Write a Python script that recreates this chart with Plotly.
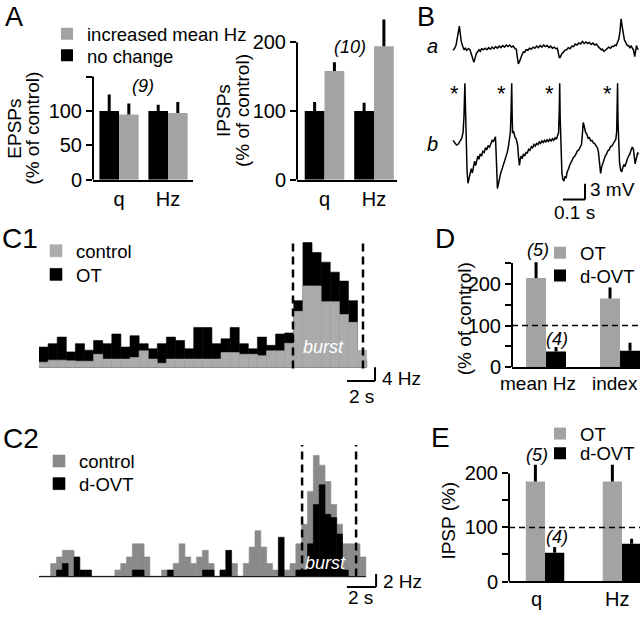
import plotly.graph_objects as go

W, H = 640, 620
FONT = "Liberation Sans, Arial, Helvetica, sans-serif"


def px(x):
    return x / W


def py(y):
    return 1 - y / H


def dom_x(a, b):
    return [a / W, b / W]


def dom_y(top, bottom):
    return [1 - bottom / H, 1 - top / H]


# ---------------- data ----------------
# Panel A (percent of control)
a_cats = ["q", "Hz"]
epsp_nochange = [100, 100]
epsp_nochange_err = [24, 9]
epsp_increased = [95, 97]
epsp_increased_err = [16, 16]
ipsp_nochange = [100, 100]
ipsp_nochange_err = [13, 12]
ipsp_increased = [158, 194]
ipsp_increased_err = [13, 39]

# Panel B traces (time in ms, membrane potential in mV relative to rest)
trace_a_ms = [0, 8, 14, 20, 26, 29, 33, 38, 44, 50, 56, 62, 70, 77, 84, 90, 95, 100, 106, 112, 118, 124, 130,
              138, 146, 154, 162, 170, 178, 186, 194, 202, 210, 218, 226, 234, 242, 250, 258, 266, 274, 282,
              288, 292, 297, 302, 308, 314, 320, 326, 332, 340, 348, 356, 364, 372, 380, 388, 396, 404, 412,
              420, 428, 436, 444, 452, 460, 468, 474, 479, 484, 489, 495, 501, 508, 516, 524, 532, 540, 548,
              556, 564, 572, 580, 588, 596, 604, 612, 620, 628, 636, 644, 652, 660, 668, 674, 680, 686, 692,
              700, 708, 716, 724, 730, 736, 742, 748, 754, 759, 764, 768, 773, 779, 786, 792, 798, 804, 810,
              816, 821, 826, 830, 834, 838, 842]
trace_a_mv = [-0.6, -0.2, 0.4, 1.8, 3.6, 4.0, 2.6, 1.0, 0.2, -0.5, -0.2, -0.6, -0.3, -0.5, -1.4, -2.5, -2.9,
              -2.2, -1.2, -0.9, -0.5, -0.8, -0.3, -0.5, -0.2, -0.5, -0.1, -0.4, 0.0, -0.3, 0.1, -0.2, 0.2,
              -0.1, 0.3, 0.0, 0.4, 0.1, 0.4, 0.0, 0.2, -0.3, -0.4, -1.8, -3.2, -2.8, -1.9, -1.4, -0.9, -1.0,
              -0.5, -0.6, -0.2, -0.4, 0.0, -0.2, 0.2, -0.1, 0.3, 0.0, 0.4, 0.1, 0.3, -0.1, 0.2, -0.2, 0.0,
              -0.3, -0.2, -1.0, -2.1, -1.8, -1.2, -1.0, -0.6, -0.5, -0.1, -0.3, 0.2, 0.1, 0.6, 0.4, 0.8, 0.6,
              1.1, 0.7, 1.0, 0.7, 0.9, 0.5, 0.8, 0.4, 0.6, 0.1, -0.2, -0.5, -0.4, -0.8, -0.6, -0.3, 0.0,
              -0.2, 0.2, 0.1, 0.4, 0.3, 0.8, 1.6, 3.0, 5.4, 4.2, 2.6, 1.4, 0.8, 0.3, 0.3, -0.1, 0.2, -0.3,
              -0.6, -1.8, -0.8, 0.3, -0.2, -0.5]
trace_b_ms = [0, 8, 16, 24, 32, 40, 46, 50, 54, 57, 60, 64, 68, 73, 78, 83, 88, 93, 98, 103, 108, 113, 118,
              124, 130, 136, 142, 148, 154, 160, 166, 172, 178, 184, 189, 193, 196, 199, 202, 206, 211, 216,
              222, 228, 234, 240, 246, 252, 257, 261, 264, 267, 269, 271, 276, 282, 288, 294, 298, 302, 306,
              310, 315, 320, 326, 332, 338, 344, 350, 356, 362, 368, 374, 380, 386, 392, 398, 404, 410, 416,
              422, 428, 434, 440, 446, 452, 458, 464, 470, 476, 480, 483, 485, 487, 489, 492, 495, 499, 504,
              509, 514, 519, 524, 530, 536, 542, 548, 554, 560, 566, 572, 578, 584, 588, 592, 595, 598, 602,
              608, 614, 620, 626, 632, 638, 644, 650, 656, 661, 666, 671, 675, 680, 686, 692, 698, 704, 710,
              716, 722, 728, 734, 740, 744, 746, 748, 750, 753, 757, 762, 767, 772, 777, 782, 787, 792, 798,
              804, 810, 815, 820, 824, 828, 832, 836, 840, 842]
trace_b_mv = [0.4, -0.1, -0.5, -0.3, 0.2, 0.8, 2.0, 5.0, 11.3, 6.0, -1.0, -5.5, -7.8, -7.0, -6.2, -5.0, -5.8,
              -4.2, -3.6, -4.4, -3.1, -2.6, -3.2, -2.2, -2.6, -1.7, -1.9, -1.0, -1.4, -0.6, -0.9, -0.1, 0.4,
              0.2, 1.0, 1.1, -2.0, -6.5, -8.8, -8.0, -6.8, -6.0, -5.2, -4.5, -3.6, -2.9, -2.0, -0.8, 0.5,
              2.0, 6.0, 11.3, 5.0, 1.8, 2.0, 1.0, 0.6, -0.6, -2.8, -4.4, -3.2, -2.6, -3.1, -2.2, -2.6, -1.9,
              -2.0, -1.3, -1.5, -0.8, -1.0, -0.4, -0.7, -0.2, -0.4, 0.1, -0.2, 0.3, 0.0, 0.4, 0.1, 0.5, 0.2,
              0.6, 0.3, 0.7, 0.4, 0.9, 0.6, 1.2, 1.9, 6.0, 11.3, 5.0, 0.5, -3.0, -5.8, -7.0, -7.4, -6.5,
              -6.8, -5.6, -5.2, -4.4, -3.8, -3.3, -2.8, -2.6, -2.0, -1.6, -1.4, -1.0, -0.4, 1.5, 3.8, 3.4,
              2.8, 2.0, 1.6, 0.8, 0.9, 0.3, 0.4, -0.1, -0.2, -0.7, -1.0, -1.8, -3.6, -5.9, -4.8, -4.0, -3.4,
              -2.6, -2.2, -1.6, -1.4, -0.8, -0.7, -0.2, 0.1, 0.6, 2.0, 6.0, 11.3, 4.0, -1.0, -3.8, -5.3,
              -5.6, -4.8, -4.2, -4.6, -3.6, -3.2, -2.6, -2.2, -1.4, -0.9, -1.3, -2.6, -4.1, -3.3, -2.2, -1.9,
              -2.3]
spike_ms = [54, 267, 485, 748]
b_scale_ms = 100
b_scale_mv = 3

# Panel C1 (firing-rate histogram, Hz per bin)
c1_bin_s = 0.65
c1_ot_hz = [5.9, 6.9, 8.8, 4.5, 6.9, 5.0, 7.8, 6.9, 9.7, 5.9, 9.2, 6.9, 5.4, 6.9, 8.8, 7.8, 5.4, 11.6,
            11.6, 6.9, 8.3, 11.6, 6.9, 5.4, 8.8, 6.4, 9.7, 10.0, 19.4, 36.3, 33.4, 30.6, 27.7, 25.1, 19.4, 2.0]
c1_control_hz = [1.5, 2.1, 2.1, 1.9, 1.8, 1.8, 3.8, 2.4, 2.4, 2.4, 2.9, 4.8, 2.4, 1.2, 2.4, 2.4, 2.4, 2.4,
                 2.4, 2.4, 4.3, 4.3, 3.8, 3.8, 3.4, 4.8, 4.8, 7.0, 16.3, 23.7, 23.7, 19.1, 19.1, 15.4, 13.1, 5.0]
c1_burst_s = [18.14, 23.14]
c1_scale_s = 2
c1_scale_hz = 4

# Panel C2
c2_bin_s = 0.4
c2_control_hz = [0, 0, 2, 3, 4, 4, 0, 0, 0, 0,
                 0, 0, 0, 1, 2, 3, 5, 5, 3, 0,
                 0, 1, 0, 2, 5, 3, 2, 3, 4, 2,
                 0, 0, 0, 2, 0, 2, 4.5, 7, 4.5, 2,
                 1, 0, 1, 2, 5, 8, 13, 18.5, 17, 14.5,
                 11, 8, 5, 5, 5, 3]
c2_dovt_hz = [0, 0, 0, 1, 2, 0, 3, 1, 1, 0,
              0, 0, 0, 0, 0, 0, 1, 1, 0, 0,
              0, 0, 1, 0, 0, 0, 0, 0, 1, 1,
              0, 1, 4, 0, 0, 0, 0, 0, 0, 0,
              0, 6, 0, 0, 1, 1, 5, 11, 14, 9.5,
              9, 6.5, 1, 0, 0, 0]
c2_burst_s = [18.03, 21.73]
c2_scale_s = 2
c2_scale_hz = 2

# Panel D
d_cats = ["mean Hz", "index"]
d_ot = [214, 165]
d_ot_err = [38, 26]
d_dovt = [38, 40]
d_dovt_err = [11, 19]

# Panel E
e_cats = ["q", "Hz"]
e_ot = [185, 185]
e_ot_err = [31, 31]
e_dovt = [53, 70]
e_dovt_err = [11, 9]

GRAY = "#a3a3a3"
GRAY_C1 = "#ababab"
GRAY_C2 = "#8a8a8a"


def err(arr):
    return dict(type="data", array=arr, arrayminus=[0] * len(arr), symmetric=False,
                color="black", thickness=3, width=0)


fig = go.Figure()

# ---- A left (EPSPs)
fig.add_trace(go.Bar(x=a_cats, y=epsp_nochange, error_y=err(epsp_nochange_err), width=0.4, offset=-0.4,
                     marker=dict(color="black", line=dict(width=0)), name="no change",
                     legend="legend2", xaxis="x", yaxis="y"))
fig.add_trace(go.Bar(x=a_cats, y=epsp_increased, error_y=err(epsp_increased_err), width=0.4, offset=0,
                     marker=dict(color=GRAY, line=dict(width=0)), name="increased mean Hz",
                     legend="legend", xaxis="x", yaxis="y"))
# ---- A right (IPSPs)
fig.add_trace(go.Bar(x=a_cats, y=ipsp_nochange, error_y=err(ipsp_nochange_err), width=0.4, offset=-0.4,
                     marker=dict(color="black", line=dict(width=0)), showlegend=False,
                     xaxis="x2", yaxis="y2"))
fig.add_trace(go.Bar(x=a_cats, y=ipsp_increased, error_y=err(ipsp_increased_err), width=0.4, offset=0,
                     marker=dict(color=GRAY, line=dict(width=0)), showlegend=False,
                     xaxis="x2", yaxis="y2"))

# ---- B traces
fig.add_trace(go.Scatter(x=trace_a_ms, y=trace_a_mv, mode="lines", line=dict(color="black", width=1.5),
                         showlegend=False, xaxis="x3", yaxis="y3"))
fig.add_trace(go.Scatter(x=trace_b_ms, y=trace_b_mv, mode="lines", line=dict(color="black", width=1.5),
                         showlegend=False, xaxis="x4", yaxis="y4"))

# ---- C1 histogram (OT behind, control in front)
c1_x = [(i + 0.5) * c1_bin_s for i in range(len(c1_ot_hz))]
fig.add_trace(go.Bar(x=c1_x, y=c1_ot_hz, width=c1_bin_s,
                     marker=dict(color="black", line=dict(width=0.6, color="black")),
                     name="OT", legend="legend4", xaxis="x5", yaxis="y5"))
fig.add_trace(go.Bar(x=c1_x, y=c1_control_hz, width=c1_bin_s,
                     marker=dict(color=GRAY_C1, line=dict(width=0.6, color=GRAY_C1)),
                     name="control", legend="legend3", xaxis="x5", yaxis="y5"))

# ---- C2 histogram (control behind, d-OVT in front)
c2_x = [(i + 0.5) * c2_bin_s for i in range(len(c2_control_hz))]
fig.add_trace(go.Bar(x=c2_x, y=c2_control_hz, width=c2_bin_s,
                     marker=dict(color=GRAY_C2, line=dict(width=0.6, color=GRAY_C2)),
                     name="control", legend="legend5", xaxis="x7", yaxis="y7"))
fig.add_trace(go.Bar(x=c2_x, y=c2_dovt_hz, width=c2_bin_s,
                     marker=dict(color="black", line=dict(width=0.6, color="black")),
                     name="d-OVT", legend="legend6", xaxis="x7", yaxis="y7"))

# ---- D
fig.add_trace(go.Bar(x=d_cats, y=d_ot, error_y=err(d_ot_err), width=0.27, offset=-0.27,
                     marker=dict(color=GRAY, line=dict(width=0)), name="OT", legend="legend7",
                     xaxis="x6", yaxis="y6"))
fig.add_trace(go.Bar(x=d_cats, y=d_dovt, error_y=err(d_dovt_err), width=0.27, offset=0,
                     marker=dict(color="black", line=dict(width=0)), name="d-OVT", legend="legend8",
                     xaxis="x6", yaxis="y6"))

# ---- E
fig.add_trace(go.Bar(x=e_cats, y=e_ot, error_y=err(e_ot_err), width=0.25, offset=-0.25,
                     marker=dict(color=GRAY, line=dict(width=0)), name="OT", legend="legend9",
                     xaxis="x8", yaxis="y8"))
fig.add_trace(go.Bar(x=e_cats, y=e_dovt, error_y=err(e_dovt_err), width=0.25, offset=0,
                     marker=dict(color="black", line=dict(width=0)), name="d-OVT", legend="legend10",
                     xaxis="x8", yaxis="y8"))

# ---------------- axes ----------------
tickfont = dict(size=20, family=FONT, color="black")


def cat_x(domain, rng, anchor, cats, labels=True):
    return dict(domain=domain, range=rng, anchor=anchor, type="category", categoryorder="array",
                categoryarray=cats, showline=True, linecolor="black", linewidth=2, ticks="",
                showgrid=False, zeroline=False, tickfont=tickfont, fixedrange=True,
                showticklabels=labels)


def val_y(domain, rng, anchor, vals, labels):
    return dict(domain=domain, range=rng, anchor=anchor, tickvals=vals, ticktext=labels,
                ticks="outside", ticklen=6, tickwidth=2, tickcolor="black", showline=False,
                showgrid=False, zeroline=False, tickfont=tickfont, fixedrange=True)


def hidden(domain, rng, anchor):
    return dict(domain=domain, range=rng, anchor=anchor, visible=False, fixedrange=True)


layout_axes = dict(
    xaxis=cat_x(dom_x(93, 193), [-0.531, 1.51], "y", a_cats),
    yaxis=val_y(dom_y(15, 183), [0, 240], "x", [0, 50, 100, 150], ["0", "50", "100", ""]),
    xaxis2=cat_x(dom_x(297, 397), [-0.556, 1.465], "y2", a_cats),
    yaxis2=val_y(dom_y(15, 183), [0, 240], "x2", [0, 100, 200], ["0", "100", "200"]),
    xaxis3=hidden(dom_x(450, 640), [-13.6, 850], "y3"),
    yaxis3=hidden(dom_y(10, 75), [-5.07, 7.13], "x3"),
    xaxis4=hidden(dom_x(450, 640), [-13.6, 850], "y4"),
    yaxis4=hidden(dom_y(80, 215), [-13.13, 12.2], "x4"),
    xaxis5=hidden(dom_x(39, 440), [0, 28.64], "y5"),
    yaxis5=hidden(dom_y(240, 410), [-10.29, 38.29], "x5"),
    xaxis6=cat_x(dom_x(512, 640), [-0.46, 1.27], "y6", d_cats, labels=False),
    yaxis6=val_y(dom_y(262, 374), [0, 263.5], "x6", [0, 50, 100, 150, 200, 250],
                 ["0", "", "100", "", "200", ""]),
    xaxis7=hidden(dom_x(39, 440), [0, 27.48], "y7"),
    yaxis7=hidden(dom_y(450, 612), [-3.75, 20.54], "x7"),
    xaxis8=cat_x(dom_x(509, 640), [-0.468, 1.234], "y8", e_cats, labels=False),
    yaxis8=val_y(dom_y(465, 592), [0, 230.9], "x8", [0, 50, 100, 150, 200],
                 ["0", "", "100", "", "200"]),
)

# ---------------- shapes ----------------
BLK = dict(color="black", width=2)
shapes = []
# y axis lines that stop at the last tick
for xr, yr, top in [("x domain", "y", 150), ("x2 domain", "y2", 200),
                    ("x6 domain", "y6", 250), ("x8 domain", "y8", 200)]:
    shapes.append(dict(type="line", xref=xr, yref=yr, x0=0, x1=0, y0=0, y1=top, line=BLK))
# 100 % reference lines
for xr, yr in [("x6 domain", "y6"), ("x8 domain", "y8")]:
    shapes.append(dict(type="line", xref=xr, yref=yr, x0=0, x1=1, y0=100, y1=100,
                       line=dict(color="black", width=1.5, dash="6px,4px")))
# burst limits
for b in c1_burst_s:
    shapes.append(dict(type="line", xref="x5", yref="y5", x0=b, x1=b, y0=-0.3, y1=37,
                       line=dict(color="black", width=2.5, dash="8px,5px")))
for b in c2_burst_s:
    shapes.append(dict(type="line", xref="x7", yref="y7", x0=b, x1=b, y0=0, y1=20.1,
                       line=dict(color="black", width=2.5, dash="8px,5px")))
# C2 baseline
shapes.append(dict(type="line", xref="x7", yref="y7", x0=0, x1=len(c2_control_hz) * c2_bin_s, y0=0, y1=0,
                   line=dict(color=GRAY_C2, width=1.5), layer="below"))
# scale bars
c1_sx = 24.0
shapes.append(dict(type="line", xref="x5", yref="y5", x0=c1_sx - c1_scale_s, x1=c1_sx,
                   y0=-c1_scale_hz, y1=-c1_scale_hz, line=BLK))
shapes.append(dict(type="line", xref="x5", yref="y5", x0=c1_sx, x1=c1_sx, y0=-c1_scale_hz, y1=0, line=BLK))
c2_sx, c2_sy = 23.1, -1.6
shapes.append(dict(type="line", xref="x7", yref="y7", x0=c2_sx - c2_scale_s, x1=c2_sx, y0=c2_sy, y1=c2_sy,
                   line=BLK))
shapes.append(dict(type="line", xref="x7", yref="y7", x0=c2_sx, x1=c2_sx, y0=c2_sy, y1=c2_sy + c2_scale_hz,
                   line=BLK))
b_sx, b_sy = 600, -10.9
shapes.append(dict(type="line", xref="x4", yref="y4", x0=b_sx - b_scale_ms, x1=b_sx, y0=b_sy, y1=b_sy,
                   line=BLK))
shapes.append(dict(type="line", xref="x4", yref="y4", x0=b_sx, x1=b_sx, y0=b_sy, y1=b_sy + b_scale_mv,
                   line=BLK))


# ---------------- annotations ----------------
def ann(text, x, y, size=20, xanchor="center", yanchor="middle", angle=0, color="black", italic=False):
    return dict(text=f"<i>{text}</i>" if italic else text, x=px(x), y=py(y), xref="paper", yref="paper",
                showarrow=False, font=dict(size=size, color=color, family=FONT), xanchor=xanchor,
                yanchor=yanchor, textangle=angle)


annotations = [
    ann("A", 14, 17, 27), ann("B", 426, 17, 27),
    ann("C1", 20, 243, 28), ann("D", 445, 243, 28),
    ann("C2", 21, 446, 28), ann("E", 440, 445, 28),
    ann("(9)", 143, 88, 18, italic=True), ann("(10)", 350, 48, 18, italic=True),
    ann("EPSPs", 15, 131, 19, angle=-90), ann("(% of control)", 33, 131, 19, angle=-90),
    ann("IPSPs", 224, 113, 19, angle=-90), ann("(% of control)", 243, 113, 19, angle=-90),
    ann("(% of control)", 464, 325, 19, angle=-90),
    ann("IPSP (%)", 449, 530, 19, angle=-90),
    ann("(5)", 538, 255, 18, italic=True), ann("(4)", 557, 345, 18, italic=True),
    ann("(5)", 537, 463, 18, italic=True), ann("(4)", 557, 547, 18, italic=True),
    ann("mean Hz", 538, 390, 19), ann("index", 615, 390, 19),
    ann("q", 536, 610, 20), ann("Hz", 617, 610, 20),
    ann("a", 432, 47, 20, italic=True), ann("b", 432, 147, 20, italic=True),
    ann("3 mV", 588, 193, 19, xanchor="left"), ann("0.1 s", 574, 216, 19),
    ann("4 Hz", 380, 385, 19, xanchor="left"), ann("2 s", 361, 404, 19),
    ann("burst", 323, 353, 18, color="white", italic=True),
    ann("2 Hz", 381, 592, 19, xanchor="left"), ann("2 s", 360, 608, 19),
    ann("burst", 325, 573, 18, color="white", italic=True),
]
for t in spike_ms:
    annotations.append(dict(text="*", x=t - 47, y=9.3, xref="x4", yref="y4", showarrow=False,
                            font=dict(size=22, family=FONT, color="black")))

LEG_FONT = 18.5


def leg(text_x, center_y):
    # a one-entry legend whose text starts at text_x and whose row is centred on center_y
    return dict(x=px(text_x - 40), y=py(center_y - 18.5), xanchor="left", yanchor="top",
                bgcolor="rgba(0,0,0,0)", borderwidth=0,
                font=dict(size=LEG_FONT, family=FONT, color="black"), tracegroupgap=0,
                itemclick=False, itemdoubleclick=False)


fig.update_layout(
    width=W, height=H, margin=dict(l=0, r=0, t=0, b=0), paper_bgcolor="white", plot_bgcolor="rgba(0,0,0,0)",
    barmode="overlay", hovermode=False, font=dict(family=FONT, color="black", size=19),
    legend=leg(87, 34), legend2=leg(87, 56),
    legend3=leg(76, 255), legend4=leg(76, 279),
    legend5=leg(79, 469), legend6=leg(79, 492),
    legend7=leg(580, 257), legend8=leg(580, 280),
    legend9=leg(580, 441), legend10=leg(580, 461),
    shapes=shapes, annotations=annotations, **layout_axes,
)

fig.write_html(
    "out.html",
    config={"displayModeBar": False, "staticPlot": True},
    post_script="document.body.style.margin='0px';document.body.style.overflow='hidden';",
)
